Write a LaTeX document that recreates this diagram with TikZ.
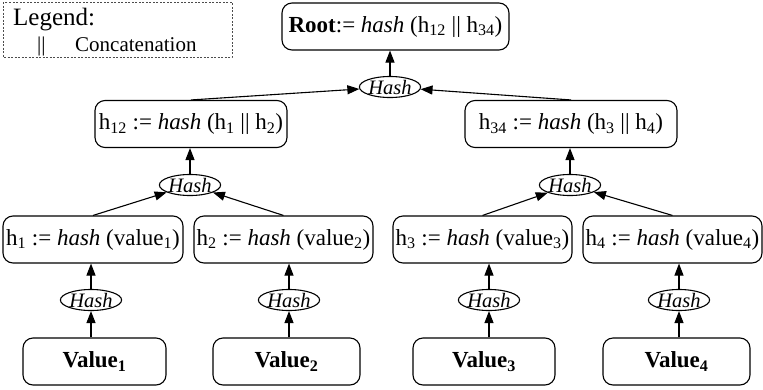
\documentclass[tikz,border=0pt]{standalone}
\usepackage{fontspec}
\setmainfont{Liberation Serif}
\usetikzlibrary{arrows.meta,shapes.geometric}
\newcommand{\lowtxt}[1]{\textsubscript{#1}}
\tikzset{
  hbox/.style={draw,rounded corners=10pt,line width=1.1pt,minimum height=47pt,
    inner sep=0pt,font=\fontsize{23}{26}\selectfont},
  hashop/.style={draw,ellipse,line width=1.1pt,minimum width=55pt,minimum height=21pt,
    inner sep=0pt,font=\fontsize{20.5}{22}\selectfont\itshape},
  link/.style={line width=1.1pt,-{Triangle[length=12pt,width=9pt]}},
}
\begin{document}
\begin{tikzpicture}[x=1pt,y=-1pt]
\useasboundingbox (0,0) rectangle (763,389);

% legend
\draw[line width=0.8pt,dash pattern=on 2pt off 1.5pt,gray!60!black] (3,2) rectangle (232,57);
\node[anchor=base west,font=\fontsize{25}{27}\selectfont,inner sep=0pt] (leg) at (13,25) {Legend:};
\node[anchor=base west,font=\fontsize{21}{22}\selectfont,inner sep=0pt] (bars) at (37,51) {||};
\node[anchor=base west,font=\fontsize{21}{22}\selectfont,inner sep=0pt] (conc) at (75,51) {Concatenation};

% root
\node[hbox,minimum width=227pt] (root) at (395.5,26.5) {\textbf{Root}:= \textit{hash} (h\lowtxt{12} || h\lowtxt{34})};

% inner level
\node[hbox,minimum width=192pt] (h12) at (191,124) {h\lowtxt{12} := \textit{hash} (h\lowtxt{1} || h\lowtxt{2})};
\node[hbox,minimum width=212pt] (h34) at (571,124) {h\lowtxt{34} := \textit{hash} (h\lowtxt{3} || h\lowtxt{4})};

% leaf hashes
\node[hbox,minimum width=180pt] (h1) at (93,239.5) {h\lowtxt{1} := \textit{hash} (value\lowtxt{1})};
\node[hbox,minimum width=179pt] (h2) at (283.5,239.5) {h\lowtxt{2} := \textit{hash} (value\lowtxt{2})};
\node[hbox,minimum width=179pt] (h3) at (482.5,239.5) {h\lowtxt{3} := \textit{hash} (value\lowtxt{3})};
\node[hbox,minimum width=179pt] (h4) at (672.5,239.5) {h\lowtxt{4} := \textit{hash} (value\lowtxt{4})};

% values
\node[hbox,minimum width=143pt] (v1) at (94.5,361.5) {\textbf{Value\lowtxt{1}}};
\node[hbox,minimum width=147pt] (v2) at (286.5,361.5) {\textbf{Value\lowtxt{2}}};
\node[hbox,minimum width=142pt] (v3) at (484,361.5) {\textbf{Value\lowtxt{3}}};
\node[hbox,minimum width=147pt] (v4) at (676.5,361.5) {\textbf{Value\lowtxt{4}}};

% hash operations
\node[hashop] (er) at (390,87) {Hash};
\node[hashop] (e12) at (190,185) {Hash};
\node[hashop] (e34) at (570,185) {Hash};
\node[hashop] (e1) at (91,300) {Hash};
\node[hashop] (e2) at (289,300) {Hash};
\node[hashop] (e3) at (489,300) {Hash};
\node[hashop] (e4) at (679,300) {Hash};

% values into leaf hashes
\foreach \i in {1,2,3,4}{
  \draw[link] (e\i.south |- v\i.north) -- (e\i.south);
  \draw[link] (e\i.north) -- (e\i.north |- h\i.south);
}

% pairs into inner hashes
\draw[link] (h1.north) -- (e12);
\draw[link] (h2.north) -- (e12);
\draw[link] (h3.north) -- (e34);
\draw[link] (h4.north) -- (e34);
\draw[link] (e12.north) -- (e12.north |- h12.south);
\draw[link] (e34.north) -- (e34.north |- h34.south);

% root
\draw[link] (h12.north) -- (er);
\draw[link] (h34.north) -- (er);
\draw[link] (er.north) -- (er.north |- root.south);
\end{tikzpicture}
\end{document}
